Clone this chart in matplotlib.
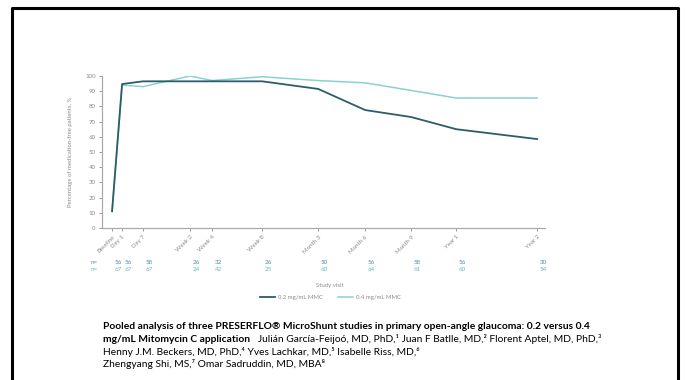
import matplotlib
matplotlib.use("Agg")
import matplotlib.pyplot as plt

# study visits (position on the x axis is not linear in time)
visits = ['Baseline', 'Day 1', 'Day 7', 'Week 2', 'Week 4', 'Week 8',
          'Month 3', 'Month 6', 'Month 9', 'Year 1', 'Year 2']
visit_pos = [0, 1, 3.1, 7.8, 10, 15, 20.6, 25.3, 29.9, 34.4, 42.5]

mmc_02 = [11, 94.7, 96.5, 96.5, 96.5, 96.5, 91.5, 77.6, 73, 65, 58.5]
mmc_04 = [11, 94, 93, 100, 97, 99.5, 97, 95.5, 90.5, 85.5, 85.5]

n_02 = [56, 56, 58, 26, 32, 26, 50, 56, 58, 56, 30]
n_04 = [67, 67, 67, 24, 42, 25, 60, 64, 61, 60, 54]

DARK = '#2c5d6b'
LIGHT = '#8ad2d0'
GRAY = '#8a8a8a'
N_DARK = '#4a8fb5'
N_LIGHT = '#6fb3cc'

plt.rcParams['font.family'] = ['Lato', 'DejaVu Sans']

fig = plt.figure(figsize=(6.85, 3.8), dpi=100)

# slide frame
fig.add_artist(plt.Line2D([0.017, 0.017, 0.990, 0.990], [0.0, 0.979, 0.979, 0.0],
                          transform=fig.transFigure, color='black', lw=2.2))

ax = fig.add_axes([0.149, 0.40, 0.647, 0.40])
ax.plot(visit_pos, mmc_02, color=DARK, lw=1.3, label='0.2 mg/mL MMC', zorder=3)
ax.plot(visit_pos, mmc_04, color=LIGHT, lw=1.1, label='0.4 mg/mL MMC', zorder=2)

ax.set_xlim(-1, 43.3)
ax.set_ylim(0, 100)
ax.set_yticks(range(0, 101, 10))
ax.set_xticks(visit_pos)
ax.set_xticklabels(visits, rotation=45, ha='right', rotation_mode='anchor')
ax.tick_params(labelsize=4.4, colors=GRAY, length=2.5, width=0.6, pad=2)
for s in ['top', 'right']:
    ax.spines[s].set_visible(False)
for s in ['left', 'bottom']:
    ax.spines[s].set_color('#aaaaaa')
    ax.spines[s].set_linewidth(0.9)
ax.set_ylabel('Percentage of medication-free patients, %', fontsize=4.3,
              color=GRAY, labelpad=9)

# number of patients rows
trans = ax.get_xaxis_transform()
row_y = [-0.228, -0.275]
for y, vals, col in zip(row_y, [n_02, n_04], [N_DARK, N_LIGHT]):
    ax.text(-2.2, y, 'n=', transform=trans, fontsize=4.5, color=col, ha='left', va='center')
    for x, v in zip(visit_pos, vals):
        ax.text(x + 0.6, y, str(v), transform=trans, fontsize=4.5, color=col,
                ha='center', va='center')

fig.text(0.482, 0.250, 'Study visit', fontsize=4.3, color=GRAY, ha='center', va='center')
ax.legend(loc='center', bbox_to_anchor=(0.515, -0.455), ncol=2, frameon=False,
          fontsize=4.3, labelcolor=GRAY, handlelength=2.6, columnspacing=2.5,
          handletextpad=0.5)

# citation text
fs = 7.4
fig.text(0.150, 0.135, 'Pooled analysis of three PRESERFLO\u00ae MicroShunt studies in primary '
         'open-angle glaucoma: 0.2 versus 0.4', fontsize=fs, fontweight='bold', va='baseline')
t2 = fig.text(0.150, 0.101, 'mg/mL Mitomycin C application', fontsize=fs,
              fontweight='bold', va='baseline')
ax_ann = fig.add_axes([0, 0, 1, 1], facecolor='none')
ax_ann.axis('off')
ax_ann.annotate('   Juli\u00e1n Garc\u00eda-Feijo\u00f3, MD, PhD,\u00b9 Juan F Batlle, MD,\u00b2 '
                'Florent Aptel, MD, PhD,\u00b3',
                xy=(1, 0), xycoords=t2, fontsize=fs, va='bottom', ha='left')
fig.text(0.150, 0.067, 'Henny J.M. Beckers, MD, PhD,\u2074 Yves Lachkar, MD,\u2075 '
         'Isabelle Riss, MD,\u2076', fontsize=fs, va='baseline')
fig.text(0.150, 0.034, 'Zhengyang Shi, MS,\u2077 Omar Sadruddin, MD, MBA\u2078',
         fontsize=fs, va='baseline')

fig.savefig('out.png', dpi=100)
